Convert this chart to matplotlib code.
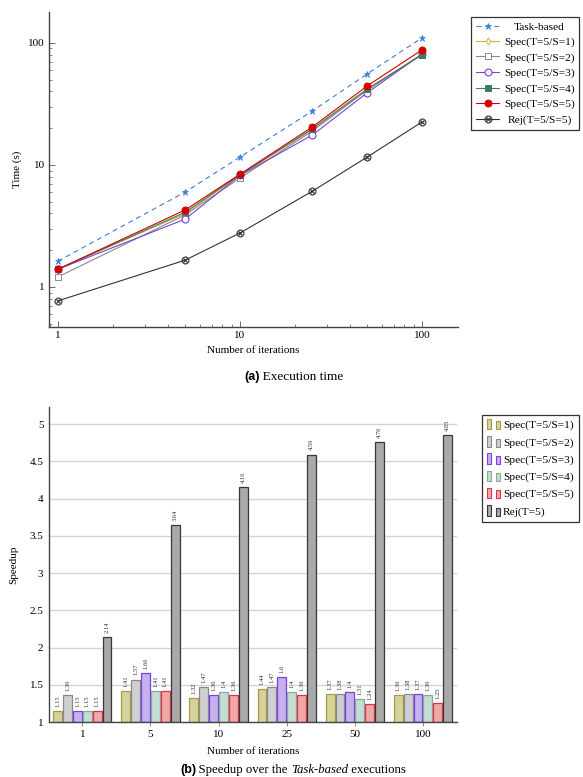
import matplotlib
matplotlib.use("Agg")
import matplotlib.pyplot as plt
import numpy as np
from matplotlib.legend_handler import HandlerBase
from matplotlib.patches import Rectangle, Patch
from matplotlib.ticker import LogLocator, NullFormatter
from matplotlib.transforms import Affine2D

plt.rcParams['font.family'] = ['Liberation Serif', 'DejaVu Serif']
plt.rcParams['mathtext.fontset'] = 'dejavusans'

# ---------------- data ----------------
iterations = [1, 5, 10, 25, 50, 100]
time_task = [1.63, 6.0, 11.6, 27.7, 55.7, 110]
time_spec1 = [1.40, 4.0, 8.2, 19.5, 41, 81]
time_spec2 = [1.21, 3.9, 7.8, 19.0, 41, 80]
time_spec3 = [1.40, 3.6, 8.2, 17.6, 39, 81]
time_spec4 = [1.40, 4.1, 8.3, 19.8, 42, 80]
time_spec5 = [1.40, 4.28, 8.4, 20.5, 44.4, 87.6]
time_rej = [0.77, 1.66, 2.77, 6.1, 11.6, 22.5]

line_labels = ["Task-based", "Spec(T=5/S=1)", "Spec(T=5/S=2)", "Spec(T=5/S=3)",
               "Spec(T=5/S=4)", "Spec(T=5/S=5)", "Rej(T=5/S=5)"]

group_labels = ["1", "5", "10", "25", "50", "100"]
speed_spec1 = [1.15, 1.41, 1.32, 1.44, 1.37, 1.36]
speed_spec2 = [1.36, 1.57, 1.47, 1.47, 1.38, 1.38]
speed_spec3 = [1.15, 1.66, 1.36, 1.6, 1.4, 1.37]
speed_spec4 = [1.15, 1.41, 1.4, 1.4, 1.31, 1.36]
speed_spec5 = [1.15, 1.41, 1.36, 1.36, 1.24, 1.25]
speed_rej = [2.14, 3.64, 4.16, 4.59, 4.76, 4.85]
bar_labels = ["Spec(T=5/S=1)", "Spec(T=5/S=2)", "Spec(T=5/S=3)",
              "Spec(T=5/S=4)", "Spec(T=5/S=5)", "Rej(T=5)"]

W, H = 583, 777
fig = plt.figure(figsize=(W / 100, H / 100), dpi=100)


def fx(px):
    return px / W


def fy(py):
    return 1 - py / H


# ---------------- top chart ----------------
ax1 = fig.add_axes([fx(49), fy(327), fx(458) - fx(49), fy(12) - fy(327)])
styles = [
    dict(color='#3b7fd9', ls=(0, (4.5, 3.5)), marker='*', ms=5, mfc='#3b7fd9', mec='#3b7fd9', mew=0.5),
    dict(color='#c9b43a', ls='-', marker='d', ms=3.5, mfc='white', mec='#c9b43a', mew=0.7),
    dict(color='#8a8a8a', ls='-', marker='s', ms=4.2, mfc='white', mec='#8a8a8a', mew=0.7),
    dict(color='#7d3fe0', ls='-', marker='o', ms=5, mfc='white', mec='#7d3fe0', mew=0.8),
    dict(color='#3d7d5f', ls='-', marker='s', ms=4.2, mfc='#3d7d5f', mec='#3d7d5f', mew=0.7),
    dict(color='#d40000', ls='-', marker='o', ms=5, mfc='#d40000', mec='#d40000', mew=0.7),
    dict(color='#333333', ls='-', marker=r'$\otimes$', ms=5.5, mfc='#333333', mec='#333333', mew=0.2),
]
series = [time_task, time_spec1, time_spec2, time_spec3, time_spec4, time_spec5, time_rej]
handles = []
for vals, st, lab in zip(series, styles, line_labels):
    h, = ax1.plot(iterations, vals, lw=0.8, label=lab, **st)
    handles.append(h)

ax1.set_xscale('log')
ax1.set_yscale('log')
ax1.set_xlim(0.892, 157.7)
ax1.set_ylim(0.47, 179)
ax1.set_xticks([1, 10, 100])
ax1.set_xticklabels(['1', '10', '100'])
ax1.set_yticks([1, 10, 100])
ax1.set_yticklabels(['1', '10', '100'])
ax1.xaxis.set_minor_locator(LogLocator(base=10, subs=np.arange(2, 10)))
ax1.yaxis.set_minor_locator(LogLocator(base=10, subs=np.arange(2, 10)))
ax1.xaxis.set_minor_formatter(NullFormatter())
ax1.yaxis.set_minor_formatter(NullFormatter())
for s in ['top', 'right']:
    ax1.spines[s].set_visible(False)
for s in ['left', 'bottom']:
    ax1.spines[s].set_color('#444444')
    ax1.spines[s].set_linewidth(1.0)
ax1.tick_params(which='major', direction='in', length=4, width=0.6, color='#555555', labelsize=8, pad=3)
ax1.tick_params(which='minor', direction='in', length=2.5, width=0.5, color='#555555')
ax1.set_xlabel('Number of iterations', fontsize=8)
ax1.set_ylabel('Time (s)', fontsize=8)
ax1.xaxis.set_label_coords(0.5, -0.06)
ax1.yaxis.set_label_coords(-0.065, 0.5)

leg1 = fig.legend(handles=handles, loc='upper left', bbox_to_anchor=(fx(471), fy(17)),
                  bbox_transform=fig.transFigure, borderaxespad=0, fontsize=8.2,
                  frameon=True, fancybox=False, edgecolor='#333333', framealpha=1,
                  handlelength=2.1, handletextpad=0.4, labelspacing=0.47, borderpad=0.4)
leg1.get_frame().set_linewidth(0.9)

# ---------------- bottom chart ----------------
ax2 = fig.add_axes([fx(49), fy(722), fx(457) - fx(49), fy(407) - fy(722)])
bar_series = [speed_spec1, speed_spec2, speed_spec3, speed_spec4, speed_spec5, speed_rej]
fills = ['#d7d19c', '#cfcfcf', '#c6b1ef', '#c3ddd3', '#f2a7a7', '#a9a9a9']
edges = ['#a49c45', '#8a8a8a', '#7a40e0', '#88aa99', '#dd3344', '#383838']
xg = np.arange(len(group_labels))
step = 0.145
width = 0.13
bar_handles = []
for i, (vals, fc, ec, lab) in enumerate(zip(bar_series, fills, edges, bar_labels)):
    off = (i - 2.5) * step
    ax2.bar(xg + off, np.array(vals) - 1, width=width, bottom=1, color=fc,
            edgecolor=ec, linewidth=0.9, zorder=3, label=lab)
    bar_handles.append(Patch(facecolor=fc, edgecolor=ec, label=lab))
    for xx, v in zip(xg + off, vals):
        ax2.annotate(f"{v:g}", (xx, v), xytext=(0, 3), textcoords='offset points',
                     rotation=90, ha='center', va='bottom', fontsize=4.7, color='#333333')

ax2.set_xlim(-0.49, 5.5)
ax2.set_ylim(1, 5.23)
ax2.set_yticks([1, 1.5, 2, 2.5, 3, 3.5, 4, 4.5, 5])
ax2.set_yticklabels(['1', '1.5', '2', '2.5', '3', '3.5', '4', '4.5', '5'])
ax2.set_xticks(xg)
ax2.set_xticklabels(group_labels)
ax2.grid(axis='y', color='#d4d4d4', linewidth=1.0, zorder=0)
ax2.set_axisbelow(True)
for s in ['top', 'right']:
    ax2.spines[s].set_visible(False)
for s in ['left', 'bottom']:
    ax2.spines[s].set_color('#444444')
    ax2.spines[s].set_linewidth(1.0)
    ax2.spines[s].set_zorder(4)
ax2.tick_params(axis='y', length=0, labelsize=8, pad=4)
ax2.tick_params(axis='x', direction='inout', length=6, width=0.6, color='#777777', labelsize=8, pad=3)
ax2.set_xlabel('Number of iterations', fontsize=8)
ax2.set_ylabel('Speedup', fontsize=8)
ax2.xaxis.set_label_coords(0.5, -0.078)
ax2.yaxis.set_label_coords(-0.075, 0.5)


class TwinRect(HandlerBase):
    def create_artists(self, legend, orig_handle, xdescent, ydescent, width, height, fontsize, trans):
        fc = orig_handle.get_facecolor()
        ec = orig_handle.get_edgecolor()
        w = width * 0.33
        r1 = Rectangle((-xdescent, -ydescent - height * 0.15), w, height * 1.3,
                       facecolor=fc, edgecolor=ec, lw=0.8, transform=trans)
        r2 = Rectangle((-xdescent + width * 0.67, -ydescent - height * 0.15), w, height * 1.0,
                       facecolor=fc, edgecolor=ec, lw=0.8, transform=trans)
        return [r1, r2]


leg2 = fig.legend(handles=bar_handles, loc='upper left', bbox_to_anchor=(fx(482), fy(415)),
                  bbox_transform=fig.transFigure, borderaxespad=0, fontsize=8.2,
                  frameon=True, fancybox=False, edgecolor='#333333', framealpha=1,
                  handlelength=1.1, handletextpad=0.3, labelspacing=0.62, borderpad=0.45,
                  handler_map={Patch: TwinRect()})
leg2.get_frame().set_linewidth(0.9)

renderer = fig.canvas.get_renderer()

# center the labels of the top legend within their column
fig.canvas.draw()
texts = leg1.get_texts()
widths = [t.get_window_extent(renderer=renderer).width for t in texts]
wmax = max(widths)
for t, w in zip(texts, widths):
    t.set_transform(t.get_transform() + Affine2D().translate((wmax - w) / 2, 0))


# ---------------- captions ----------------
def chain(parts, x0, y0):
    x = x0
    for txt, kw in parts:
        t = fig.text(x, y0, txt, ha='left', va='baseline', **kw)
        bb = t.get_window_extent(renderer=renderer)
        x = x + bb.width / W


chain([("(a)", dict(fontsize=9, fontweight='bold', family=['Liberation Sans'])),
       ("\u2009Execution time", dict(fontsize=9.5))], fx(244), fy(380))
chain([("(b)", dict(fontsize=9, fontweight='bold', family=['Liberation Sans'])),
       ("\u2009Speedup over the ", dict(fontsize=9.2)),
       ("Task-based", dict(fontsize=9.2, style='italic')),
       (" executions", dict(fontsize=9.2))], fx(180), fy(773))

fig.savefig('out.png', dpi=100)
